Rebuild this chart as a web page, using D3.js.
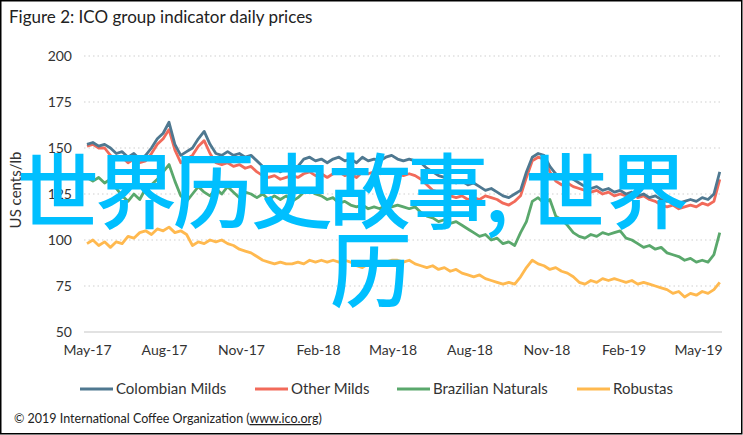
<!DOCTYPE html>
<html><head><meta charset="utf-8">
<script src="https://cdn.jsdelivr.net/npm/d3@7/dist/d3.min.js"></script>
<style>body{margin:0;background:#fff}svg{display:block}</style>
</head><body>
<svg id="c" width="743" height="435"></svg>
<script>
const seriesNames = ["Colombian Milds","Other Milds","Brazilian Naturals","Robustas"];
const seriesColors = ["#4f7890","#f26a5a","#5aa86c","#ffb94f"];
const startDate = new Date(2017,4,1);
const tickLabels = ["May-17","Aug-17","Nov-17","Feb-18","May-18","Aug-18","Nov-18","Feb-19","May-19"];
const yTicks = [50,75,100,125,150,175,200];
const colombian = [152,153,151,152,150,147,148,145,147,144,146,150,155,158,164,152,146,148,150,155,159,152,147,146,148,146,147,145,146,143,140,138,140,137,139,138,140,144,145,143,144,142,144,145,143,144,142,145,143,144,143,145,146,144,143,144,143,142,139,137,135,134,132,131,132,130,131,129,127,128,126,124,123,125,127,137,145,147,146,140,136,134,135,133,131,129,128,129,127,128,126,127,125,126,124,125,123,124,122,121,122,120,121,122,121,123,122,125,137];
const otherMilds = [151,152,150,150,146,144,145,142,144,142,143,147,152,155,160,149,142,144,146,151,154,147,142,141,142,140,141,139,140,137,135,134,135,133,134,135,134,136,137,135,136,134,136,137,135,136,134,137,136,137,136,138,137,136,135,136,135,133,130,127,126,125,124,123,124,122,123,122,124,123,122,120,119,121,124,134,143,145,144,137,132,130,131,129,128,127,126,127,125,126,124,125,124,125,123,124,122,121,119,118,119,117,118,119,118,120,119,121,133];
const brazilian = [134,132,134,131,133,128,124,121,125,122,128,130,133,137,141,132,124,121,125,129,126,124,128,125,129,126,123,126,125,123,125,122,124,122,124,121,123,126,127,125,124,122,123,120,121,119,118,119,117,118,117,119,118,119,118,117,118,115,113,112,110,111,109,110,108,106,104,102,103,100,101,98,99,97,104,110,121,123,120,122,113,111,108,104,102,101,103,102,104,103,104,105,101,100,98,96,97,95,96,93,92,91,89,90,88,89,88,92,104];
const robustas = [98,100,97,99,96,99,98,102,101,104,105,103,106,105,107,104,105,103,97,99,98,100,99,100,98,97,95,94,93,91,89,88,87,88,87,87,88,87,89,88,89,88,89,88,89,88,86,85,87,88,87,88,89,89,88,89,87,86,85,86,84,85,83,84,82,81,80,81,79,78,77,76,77,76,80,85,89,87,86,84,85,83,82,80,77,76,78,77,79,78,79,78,77,78,76,77,76,75,74,73,71,72,69,71,70,72,71,73,77];
const allSeries = [colombian, otherMilds, brazilian, robustas];

const svg = d3.select("#c");
const font = "Lato, 'Open Sans', sans-serif";
const x = d3.scaleTime().domain([startDate, new Date(2019,4,1)]).range([87,698]);
const y = d3.scaleLinear().domain([50,200]).range([332,56]);
const dates = d3.range(colombian.length).map(i => d3.timeDay.offset(startDate, 7*i));

svg.append("rect").attr("x",0.75).attr("y",0.75).attr("width",741).attr("height",433)
  .attr("fill","#fff").attr("stroke","#000").attr("stroke-width",1.5);

svg.append("text").attr("x",9).attr("y",23).attr("font-family",font).attr("font-size",17)
  .attr("fill","#222").text("Figure 2: ICO group indicator daily prices");

// grid
const gx0 = 84, gx1 = 722;
svg.append("g").selectAll("line").data(yTicks.filter(d=>d>50)).join("line")
  .attr("x1",gx0).attr("x2",gx1).attr("y1",d=>y(d)).attr("y2",d=>y(d))
  .attr("stroke","#cfcfcf").attr("stroke-width",1.2).attr("stroke-dasharray","1.5,3");
svg.append("line").attr("x1",gx0).attr("x2",gx1).attr("y1",y(50)).attr("y2",y(50))
  .attr("stroke","#d9d9d9").attr("stroke-width",1.5);

// y axis
const yAxis = d3.axisLeft(y).tickValues(yTicks).tickSize(0).tickPadding(0);
const yg = svg.append("g").attr("transform","translate(72,0)").call(yAxis);
yg.select(".domain").remove();
yg.selectAll("text").attr("font-family",font).attr("font-size",14).attr("fill","#333");

// x axis
const tickDates = tickLabels.map((t,i)=>d3.timeMonth.offset(startDate,3*i));
const xAxis = d3.axisBottom(x).tickValues(tickDates).tickSize(0).tickPadding(0)
  .tickFormat((d,i)=>tickLabels[i]);
const xg = svg.append("g").attr("transform","translate(0,345)").call(xAxis);
xg.select(".domain").remove();
xg.selectAll("text").attr("font-family",font).attr("font-size",14).attr("fill","#333");

svg.append("text").attr("transform","translate(21,190) rotate(-90)").attr("text-anchor","middle")
  .attr("font-family",font).attr("font-size",15).attr("fill","#333").text("US cents/lb");

// lines
const line = d3.line().x((d,i)=>x(dates[i])).y(d=>y(d));
[3,2,1,0].forEach(k=>{
  svg.append("path").datum(allSeries[k]).attr("d",line).attr("fill","none")
    .attr("stroke",seriesColors[k]).attr("stroke-width",2.8).attr("stroke-linejoin","round");
});

// legend
const legX = [80,255,397,577];
seriesNames.forEach((n,k)=>{
  svg.append("line").attr("x1",legX[k]).attr("x2",legX[k]+33).attr("y1",389).attr("y2",389)
    .attr("stroke",seriesColors[k]).attr("stroke-width",2.8);
  svg.append("text").attr("x",legX[k]+36).attr("y",394).attr("font-family",font).attr("font-size",15)
    .attr("fill","#333").text(n);
});

// footer
const ft = svg.append("text").attr("x",14).attr("y",423).attr("font-family",font).attr("font-size",12.5).attr("fill","#222");
ft.append("tspan").text("© 2019 International Coffee Organization (");
ft.append("tspan").attr("text-decoration","underline").text("www.ico.org");
ft.append("tspan").text(")");

// watermark
const wm = svg.append("g").attr("font-family","'Noto Sans CJK SC'").attr("font-weight",500)
  .attr("font-size",82).attr("fill","#00bfff");
wm.append("text").attr("x",17).attr("y",222).attr("textLength",492).text("世界历史故事,");
wm.append("text").attr("x",525).attr("y",222).text("世界");
wm.append("text").attr("x",330).attr("y",301).text("历");
</script>
</body></html>
